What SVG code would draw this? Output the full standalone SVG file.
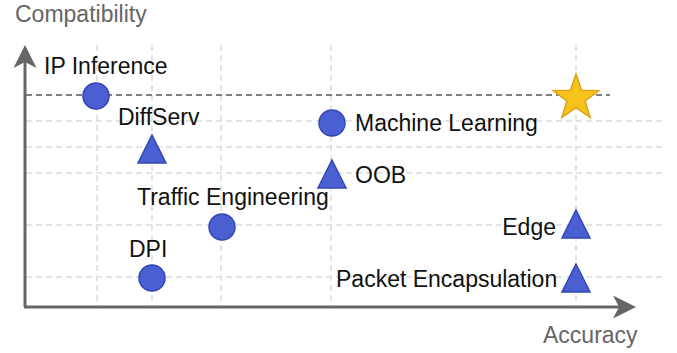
<svg xmlns="http://www.w3.org/2000/svg" width="677" height="353" viewBox="0 0 677 353">
<style>
.grid{stroke:#dcdcdc;stroke-width:1.5;stroke-dasharray:6 4;fill:none}
.ref{stroke:#555;stroke-width:1.5;stroke-dasharray:6 4;fill:none}
.axis{stroke:#666;stroke-width:3;fill:none}
.head{fill:#666}
.pt{fill:#4a5fd2;stroke:#3247b3;stroke-width:1.5}
.lbl{font-family:"Liberation Sans",Arial,sans-serif;font-size:23px;fill:#111}
.ax{font-family:"Liberation Sans",Arial,sans-serif;font-size:23px;fill:#666}
</style>
<g id="grid">
<line class="grid" x1="97" y1="45" x2="97" y2="306"/>
<line class="grid" x1="152" y1="45" x2="152" y2="306"/>
<line class="grid" x1="221" y1="45" x2="221" y2="306"/>
<line class="grid" x1="331" y1="45" x2="331" y2="306"/>
<line class="grid" x1="576" y1="45" x2="576" y2="306"/>
<line class="grid" x1="26" y1="121" x2="664" y2="121"/>
<line class="grid" x1="26" y1="147" x2="664" y2="147"/>
<line class="grid" x1="26" y1="173" x2="664" y2="173"/>
<line class="grid" x1="26" y1="225" x2="664" y2="225"/>
<line class="grid" x1="26" y1="277" x2="664" y2="277"/>
<line class="ref" x1="26" y1="95" x2="610" y2="95"/>
</g>
<g id="axes">
<line class="axis" x1="25" y1="307" x2="25" y2="60"/>
<path class="head" d="M25,45 L36.5,68 L25,62 L13.5,68 Z"/>
<line class="axis" x1="24" y1="307" x2="622" y2="307"/>
<path class="head" d="M636,307 L613,295.5 L619,307 L613,318.5 Z"/>
<text class="ax" x="15" y="22">Compatibility</text>
<text class="ax" x="543" y="343">Accuracy</text>
</g>
<g id="ip-inference">
<circle class="pt" cx="96" cy="96" r="13"/>
<text class="lbl" x="44" y="74">IP Inference</text>
</g>
<g id="diffserv">
<path class="pt" d="M152,135 L166,163 L138,163 Z"/>
<text class="lbl" x="118" y="125">DiffServ</text>
</g>
<g id="machine-learning">
<circle class="pt" cx="332" cy="123" r="13"/>
<text class="lbl" x="355" y="131">Machine Learning</text>
</g>
<g id="oob">
<path class="pt" d="M332,160 L346,188 L318,188 Z"/>
<text class="lbl" x="355" y="183">OOB</text>
</g>
<g id="traffic-engineering">
<circle class="pt" cx="222" cy="227" r="13"/>
<text class="lbl" x="137" y="205">Traffic Engineering</text>
</g>
<g id="dpi">
<circle class="pt" cx="152" cy="278" r="13"/>
<text class="lbl" x="129" y="257">DPI</text>
</g>
<g id="edge">
<path class="pt" d="M576,210 L590,238 L562,238 Z"/>
<text class="lbl" x="556" y="235" text-anchor="end">Edge</text>
</g>
<g id="packet-encapsulation">
<path class="pt" d="M576,264 L590,292 L562,292 Z"/>
<text class="lbl" x="336" y="287">Packet Encapsulation</text>
</g>
<g id="target">
<path d="M576,74 L581.6,90.3 L598.8,90.6 L585.1,101 L590.1,117.4 L576,107.6 L561.9,117.4 L566.9,101 L553.2,90.6 L570.4,90.3 Z" fill="#f6c21c" stroke="#dca515" stroke-width="1.5"/>
</g>
</svg>
